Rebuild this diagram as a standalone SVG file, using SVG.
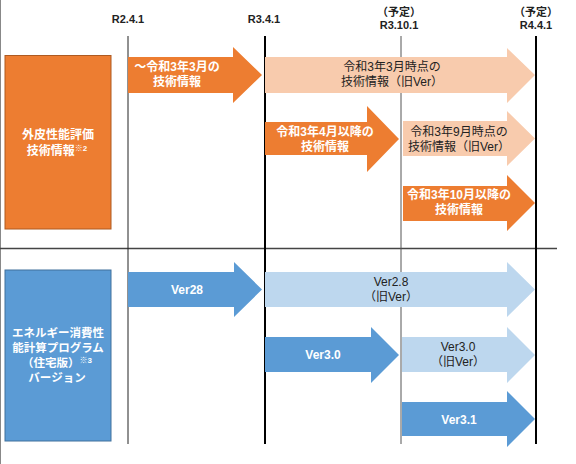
<svg xmlns="http://www.w3.org/2000/svg" width="576" height="464" viewBox="0 0 576 464">
<style>
text{font-family:"Liberation Sans","Noto Sans CJK JP",sans-serif;text-anchor:middle;}
.hd{font-size:11px;font-weight:bold;fill:#222;}
.w{font-size:12px;font-weight:bold;fill:#fff;}
.d{font-size:12px;fill:#222;}
.sup{font-size:8px;}
.or{fill:#ED7D31;}
.lor{fill:#F8CBAD;}
.bl{fill:#5B9BD5;}
.lbl{fill:#BDD7EE;}
</style>
<rect width="576" height="464" fill="#fff"/>
<g id="grid">
<line x1="0.5" y1="0" x2="0.5" y2="464" stroke="#888" stroke-width="1"/>
<line x1="0" y1="248.5" x2="557" y2="248.5" stroke="#444" stroke-width="1.3"/>
<line x1="128" y1="36" x2="128" y2="444" stroke="#222" stroke-width="1"/>
<line x1="265" y1="36" x2="265" y2="444" stroke="#000" stroke-width="2"/>
<line x1="401" y1="36" x2="401" y2="444" stroke="#555" stroke-width="1"/>
<line x1="536" y1="36" x2="536" y2="444" stroke="#000" stroke-width="2"/>
</g>
<g id="headers">
<text class="hd" x="128" y="23">R2.4.1</text>
<text class="hd" x="264" y="23">R3.4.1</text>
<text class="hd" x="399" y="16">（予定）</text>
<text class="hd" x="399" y="29">R3.10.1</text>
<text class="hd" x="536" y="16">（予定）</text>
<text class="hd" x="536" y="29">R4.4.1</text>
</g>
<g id="box-gaihi">
<rect x="5" y="55.5" width="106" height="173.5" fill="#ED7D31" stroke="#AE5A21" stroke-width="1"/>
<text class="w" x="58" y="139">外皮性能評価</text>
<text class="w" x="57" y="155">技術情報<tspan class="sup" dy="-4">※2</tspan></text>
</g>
<g id="box-energy">
<rect x="5" y="270" width="106" height="171" fill="#5B9BD5" stroke="#41719C" stroke-width="1"/>
<text class="w" x="58" y="337" style="font-size:11.5px">エネルギー消費性</text>
<text class="w" x="58" y="352" style="font-size:11.5px">能計算プログラム</text>
<text class="w" x="57" y="367" style="font-size:11.5px">（住宅版）<tspan class="sup" dy="-4">※3</tspan></text>
<text class="w" x="57" y="382" style="font-size:11.5px">バージョン</text>
</g>
<g id="connectors">
<g id="arrow-a1">
<polygon class="or" points="128,57 233,57 233,47 262,75 233,103 233,93 128,93"/>
<text class="w" x="177" y="71">～令和3年3月の</text>
<text class="w" x="177" y="85.5">技術情報</text>
</g>
<g id="arrow-l1">
<polygon class="lor" points="265,57 507,57 507,48 535,75 507,103 507,93 265,93"/>
<text class="d" x="392" y="71">令和3年3月時点の</text>
<text class="d" x="392" y="86">技術情報（旧Ver）</text>
</g>
<g id="arrow-a2">
<polygon class="or" points="265,122 367,122 367,106 399,139 367,172 367,155 265,155"/>
<text class="w" x="325" y="136">令和3年4月以降の</text>
<text class="w" x="325" y="150.5">技術情報</text>
</g>
<g id="arrow-l2">
<polygon class="lor" points="403,121 507,121 507,111 535,138.5 507,166 507,156 403,156"/>
<text class="d" x="459" y="136">令和3年9月時点の</text>
<text class="d" x="459" y="150.5">技術情報（旧Ver）</text>
</g>
<g id="arrow-a3">
<polygon class="or" points="403,186 507,186 507,175 535,203 507,231 507,221 403,221"/>
<text class="w" x="459" y="199">令和3年10月以降の</text>
<text class="w" x="459" y="214">技術情報</text>
</g>
<g id="arrow-b1">
<polygon class="bl" points="128,272 234,272 234,262 262,289.5 234,317 234,307 128,307"/>
<text class="w" x="187" y="294">Ver28</text>
</g>
<g id="arrow-lb1">
<polygon class="lbl" points="265,272 507,272 507,262 535,289.5 507,317 507,307 265,307"/>
<text class="d" x="391" y="286">Ver2.8</text>
<text class="d" x="391" y="300.5">（旧Ver）</text>
</g>
<g id="arrow-b2">
<polygon class="bl" points="265,337 371,337 371,327 399,355 371,383 371,372 265,372"/>
<text class="w" x="323" y="358.5">Ver3.0</text>
</g>
<g id="arrow-lb2">
<polygon class="lbl" points="402,337 507,337 507,327 535,355 507,383 507,372 402,372"/>
<text class="d" x="458" y="351">Ver3.0</text>
<text class="d" x="458" y="365.5">（旧Ver）</text>
</g>
<g id="arrow-b3">
<polygon class="bl" points="402,402 507,402 507,391 535,419 507,447 507,436 402,436"/>
<text class="w" x="459" y="423.5">Ver3.1</text>
</g>
</g>
</svg>
